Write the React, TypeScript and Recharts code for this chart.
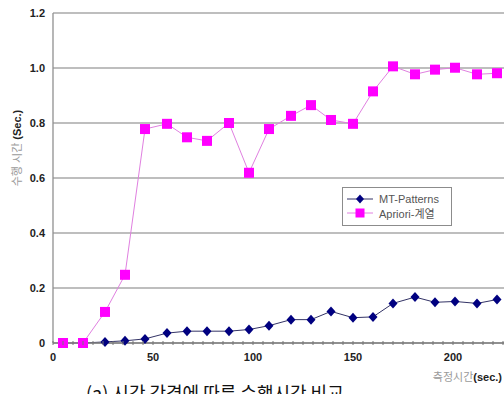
import React from 'react';
import { LineChart, Line, XAxis, YAxis, CartesianGrid, Legend } from 'recharts';

const times = [5, 15, 26, 36, 46, 57, 67, 77, 88, 98, 108, 119, 129, 139, 150, 160, 170, 181, 191, 201, 212, 222];
const mtPatterns = [0, 0, 0.004, 0.008, 0.015, 0.036, 0.043, 0.043, 0.043, 0.049, 0.063, 0.085, 0.085, 0.115, 0.092, 0.095, 0.144, 0.167, 0.148, 0.151, 0.144, 0.158];
const apriori = [0, 0, 0.113, 0.248, 0.778, 0.797, 0.748, 0.735, 0.8, 0.619, 0.778, 0.826, 0.865, 0.811, 0.797, 0.915, 1.006, 0.977, 0.994, 1.001, 0.977, 0.981];
const yTicks = [0, 0.2, 0.4, 0.6, 0.8, 1.0, 1.2];
const xTicks = Array.from({ length: 46 }, (_, i) => i * 5);
const xLabelTicks = [0, 50, 100, 150, 200];
const seriesNames = ['MT-Patterns', 'Apriori-계열'];

const data = times.map((t, i) => ({ t, mt: mtPatterns[i], ap: apriori[i] }));

const LATIN = "'Liberation Sans', Arial, 'Noto Sans CJK KR', sans-serif";

const Square = (p: any) => {
  if (p.cx == null || p.cy == null) return <g key={p.index} />;
  return <rect key={p.index} x={p.cx - 5} y={p.cy - 5} width={10} height={10} fill="#FF00FF" />;
};
const Diamond = (p: any) => {
  if (p.cx == null || p.cy == null) return <g key={p.index} />;
  const { cx, cy } = p;
  return (
    <polygon
      key={p.index}
      points={`${cx},${cy - 5} ${cx + 4.5},${cy} ${cx},${cy + 5} ${cx - 4.5},${cy}`}
      fill="#000080"
    />
  );
};

const XTick = (p: any) => {
  const { x, y, payload } = p;
  const v = payload.value;
  return (
    <g>
      <line x1={x} x2={x} y1={y - 2} y2={y + 2} stroke="#777" strokeWidth={1} />
      {xLabelTicks.includes(v) && (
        <text x={x} y={y + 18} textAnchor="middle" fontFamily={LATIN} fontWeight="bold" fontSize={11} fill="#222">
          {v}
        </text>
      )}
    </g>
  );
};

const LegendBox = () => (
  <div
    style={{
      border: '1px solid #8c8c8c',
      background: '#fff',
      width: 108,
      height: 33,
      boxSizing: 'content-box',
      fontFamily: LATIN,
      fontSize: 11,
      color: '#555',
      paddingTop: 4,
    }}
  >
    <div style={{ display: 'flex', alignItems: 'center', height: 14 }}>
      <svg width={34} height={12} style={{ marginLeft: 2 }}>
        <line x1={2} x2={28} y1={6} y2={6} stroke="#333366" strokeWidth={1} />
        <polygon points="15,1.5 19,6 15,10.5 11,6" fill="#000080" />
      </svg>
      <span>{seriesNames[0]}</span>
    </div>
    <div style={{ display: 'flex', alignItems: 'center', height: 14 }}>
      <svg width={34} height={12} style={{ marginLeft: 2 }}>
        <line x1={2} x2={28} y1={6} y2={6} stroke="#E080E0" strokeWidth={1} />
        <rect x={10.5} y={1.5} width={9} height={9} fill="#FF00FF" />
      </svg>
      <span>{seriesNames[1]}</span>
    </div>
  </div>
);

export default function App() {
  return (
    <div style={{ position: 'absolute', left: 0, top: 0, width: 504, height: 394, overflow: 'hidden', background: '#fff' }}>
      <LineChart width={504} height={394} data={data} margin={{ top: 13, right: 0, left: 0, bottom: 21 }}>
        <CartesianGrid vertical={false} stroke="#a8a8a8" strokeWidth={1.3} />
        <XAxis
          dataKey="t"
          type="number"
          domain={[0, 225.5]}
          allowDataOverflow
          ticks={xTicks}
          interval={0}
          tick={<XTick />}
          tickLine={false}
          tickSize={0}
          tickMargin={0}
          height={30}
          axisLine={{ stroke: '#808080', strokeWidth: 1.3 }}
        />
        <YAxis
          type="number"
          domain={[0, 1.2]}
          ticks={yTicks}
          interval={0}
          width={53}
          tickLine={false}
          tickSize={0}
          tickMargin={8}
          axisLine={{ stroke: '#909090', strokeWidth: 1.3 }}
          tickFormatter={(v: number) => (v === 0 ? '0' : v.toFixed(1))}
          tick={{ fontFamily: LATIN, fontWeight: 'bold', fontSize: 11, fill: '#222' }}
        />
        <Legend
          layout="vertical"
          align="center"
          verticalAlign="middle"
          content={<LegendBox />}
          wrapperStyle={{ position: 'absolute', left: 342, top: 187, width: 110, height: 39 }}
        />
        <Line
          type="linear"
          dataKey="mt"
          name={seriesNames[0]}
          stroke="#333366"
          strokeWidth={1}
          dot={(p: any) => <Diamond key={p.index} {...p} />}
          activeDot={false}
          isAnimationActive={false}
        />
        <Line
          type="linear"
          dataKey="ap"
          name={seriesNames[1]}
          stroke="#E080E0"
          strokeWidth={1}
          dot={(p: any) => <Square key={p.index} {...p} />}
          activeDot={false}
          isAnimationActive={false}
        />
      </LineChart>
      <div
        style={{
          position: 'absolute',
          left: 17,
          top: 148,
          transform: 'translate(-50%, -50%) rotate(-90deg)',
          whiteSpace: 'nowrap',
          fontFamily: LATIN,
          fontSize: 11,
          lineHeight: '12px',
        }}
      >
        <span style={{ color: '#9a9a9a' }}>수행 시간 </span>
        <span style={{ color: '#222', fontWeight: 'bold' }}>(Sec.)</span>
      </div>
      <div
        style={{
          position: 'absolute',
          right: 2,
          top: 371,
          whiteSpace: 'nowrap',
          fontFamily: LATIN,
          fontSize: 11,
          lineHeight: '12px',
        }}
      >
        <span style={{ color: '#9a9a9a' }}>측정시간</span>
        <span style={{ color: '#222', fontWeight: 'bold' }}>(sec.)</span>
      </div>
      <div
        style={{
          position: 'absolute',
          left: 86,
          top: 381,
          whiteSpace: 'nowrap',
          fontFamily: "'Noto Sans CJK KR', serif",
          fontSize: 18,
          lineHeight: '22px',
          color: '#111',
        }}
      >
        (a) 시간 간격에 따른 수행시간 비교
      </div>
    </div>
  );
}
